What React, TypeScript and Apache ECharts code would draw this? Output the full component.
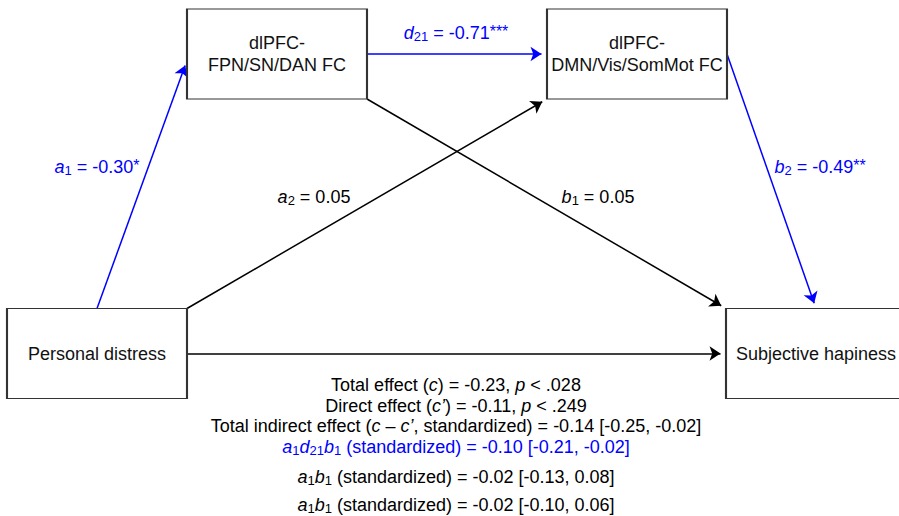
import React, { useEffect, useRef } from 'react';
import * as echarts from 'echarts';

const FONT = '"Liberation Sans", Arial, Helvetica, sans-serif';
const BLUE = '#0000ff';
const BLACK = '#000000';

// Nodes (boxes) of the path model
const nodeNames = ['dlPFC-\nFPN/SN/DAN FC', 'dlPFC-\nDMN/Vis/SomMot FC', 'Personal distress', 'Subjective hapiness'];
const nodeCenters = [[277, 54], [637, 54], [97, 353.5], [816, 353.5]];
const BOX_W = 180;
const BOX_H = 90;

// Paths
const pathLetters = ['a', 'd', 'a', 'b', 'b', 'c'];
const pathSubs = ['1', '21', '2', '1', '2', ''];
const pathValues = [-0.30, -0.71, 0.05, 0.05, -0.49, null];
const pathStars = ['*', '***', '', '', '**', ''];
const pathSignificant = [true, true, false, false, true, false];
const pathFrom = [2, 0, 2, 0, 1, 2];
const pathTo = [0, 1, 1, 3, 3, 3];
const fromAnchor = [[0.5, 0], [1, 0.5], [1, 0], [1, 1], [1, 0.5], [1, 0.5]];
const toAnchor = [[0, 0.57], [0, 0.5], [0, 1], [0, 0], [0.5, 0], [0, 0.5]];
const labelPos = [[97, 167], [456, 33], [314, 197], [598, 197], [820, 167], null];

// Summary of effects
const totalEffect = -0.23;
const totalP = '.028';
const directEffect = -0.11;
const directP = '.249';
const indirectEffect = [-0.14, -0.25, -0.02];
const specificNames = ['{i|a}{sub|1}{i|d}{sub|21}{i|b}{sub|1}', '{i|a}{sub|1}{i|b}{sub|1}', '{i|a}{sub|1}{i|b}{sub|1}'];
const specificEffects = [[-0.10, -0.21, -0.02], [-0.02, -0.13, 0.08], [-0.02, -0.10, 0.06]];
const specificHighlight = [true, false, false];
const summaryX = 456;
const summaryY = [385, 406, 426, 447, 477, 505];

const ARROW = 11;

const f2 = (v: number) => v.toFixed(2);

const richFor = (color: string) => ({
  i: { fontStyle: 'italic', fontSize: 18, lineHeight: 20, color, fontFamily: FONT, opacity: 1 },
  sub: { fontSize: 13, lineHeight: 10, verticalAlign: 'bottom', color, fontFamily: FONT, opacity: 1 },
  st: { fontSize: 16, lineHeight: 14, verticalAlign: 'top', color, fontFamily: FONT, opacity: 1 },
  n: { fontSize: 18, lineHeight: 20, color, fontFamily: FONT, opacity: 1 },
});

function anchorPoint(node: number, a: number[]) {
  const [cx, cy] = nodeCenters[node];
  return [cx - BOX_W / 2 + a[0] * BOX_W, cy - BOX_H / 2 + a[1] * BOX_H];
}

export default function App() {
  const ref = useRef<HTMLDivElement>(null);
  useEffect(() => {
    document.body.style.margin = '0';
    if (!ref.current) return;
    const chart = echarts.init(ref.current, undefined, { renderer: 'svg' });

    const lineData = pathFrom.map((from, k) => {
      const p1 = anchorPoint(from, fromAnchor[k]);
      const p2 = anchorPoint(pathTo[k], toAnchor[k]);
      const dx = p2[0] - p1[0];
      const dy = p2[1] - p1[1];
      const len = Math.sqrt(dx * dx + dy * dy);
      const end = [p2[0] - (dx / len) * (ARROW / 2), p2[1] - (dy / len) * (ARROW / 2)];
      return {
        coords: [p1, end],
        lineStyle: { color: pathSignificant[k] ? BLUE : BLACK, width: 1.5, opacity: 1 },
      };
    });

    const labelData: any[] = [];
    pathLetters.forEach((l, k) => {
      if (!labelPos[k] || pathValues[k] === null) return;
      const color = pathSignificant[k] ? BLUE : BLACK;
      const stars = pathStars[k] ? `{st|${pathStars[k]}}` : '';
      labelData.push({
        value: labelPos[k],
        label: {
          formatter: `{i|${l}}{sub|${pathSubs[k]}}{n| = ${f2(pathValues[k] as number)}}${stars}`,
          color,
          rich: richFor(color),
        },
      });
    });

    const summaryTexts = [
      `{n|Total effect (}{i|c}{n|) = ${f2(totalEffect)}, }{i|p}{n| < ${totalP}}`,
      `{n|Direct effect (}{i|c’}{n|) = ${f2(directEffect)}, }{i|p}{n| < ${directP}}`,
      `{n|Total indirect effect (}{i|c}{n| – }{i|c’}{n|, standardized) = ${f2(indirectEffect[0])} [${f2(indirectEffect[1])}, ${f2(indirectEffect[2])}]}`,
      ...specificNames.map(
        (nm, k) => `${nm}{n| (standardized) = ${f2(specificEffects[k][0])} [${f2(specificEffects[k][1])}, ${f2(specificEffects[k][2])}]}`
      ),
    ];
    const summaryColors = [BLACK, BLACK, BLACK, ...specificHighlight.map((h) => (h ? BLUE : BLACK))];
    summaryTexts.forEach((t, k) => {
      labelData.push({
        value: [summaryX, summaryY[k]],
        label: { formatter: t, color: summaryColors[k], rich: richFor(summaryColors[k]) },
      });
    });

    chart.setOption({
      animation: false,
      backgroundColor: '#ffffff',
      grid: { left: 0, right: 0, top: 0, bottom: 0, containLabel: false },
      xAxis: { type: 'value', min: 0, max: 899, show: false },
      yAxis: { type: 'value', min: 0, max: 516, inverse: true, show: false },
      series: [
        {
          type: 'lines',
          coordinateSystem: 'cartesian2d',
          silent: true,
          z: 2,
          symbol: ['none', 'arrow'],
          symbolSize: ARROW,
          lineStyle: { opacity: 1, width: 1.5 },
          data: lineData,
        },
        {
          type: 'scatter',
          silent: true,
          z: 3,
          clip: false,
          symbol: 'rect',
          symbolSize: [BOX_W, BOX_H],
          itemStyle: { color: '#ffffff', borderColor: '#333333', borderWidth: 1.5, opacity: 1 },
          label: {
            show: true,
            position: 'inside',
            formatter: '{b}',
            color: '#111111',
            fontSize: 18,
            lineHeight: 22,
            padding: [4, 0, 0, 0],
            fontFamily: FONT,
            opacity: 1,
          },
          data: nodeNames.map((nm, k) => ({ name: nm, value: nodeCenters[k] })),
        },
        {
          type: 'scatter',
          silent: true,
          z: 4,
          clip: false,
          symbolSize: 0,
          itemStyle: { opacity: 1 },
          label: {
            show: true,
            position: 'inside',
            align: 'center',
            verticalAlign: 'middle',
            fontSize: 18,
            lineHeight: 20,
            fontFamily: FONT,
            opacity: 1,
          },
          data: labelData,
        },
      ],
    });
    return () => chart.dispose();
  }, []);
  return <div ref={ref} style={{ width: 899, height: 516 }} />;
}
